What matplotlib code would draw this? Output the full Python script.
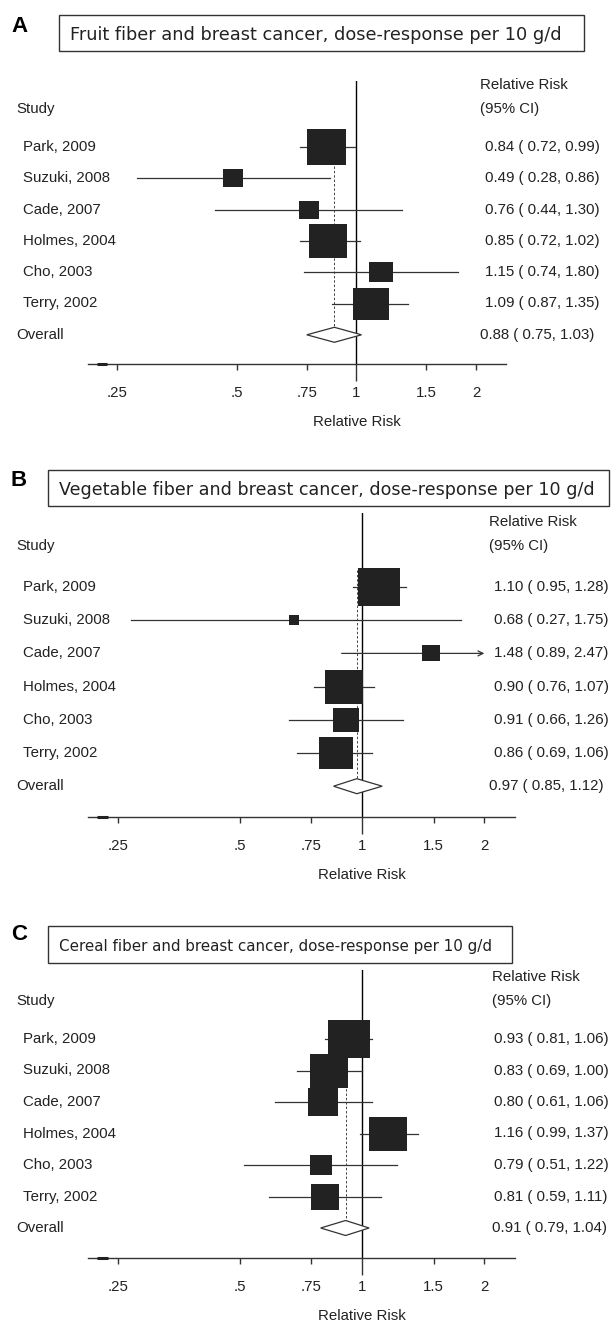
import matplotlib
matplotlib.use("Agg")
import matplotlib.pyplot as plt
from matplotlib.patches import Rectangle, Polygon
from matplotlib.ticker import NullLocator
from matplotlib.transforms import blended_transform_factory
import numpy as np

# --- data ---
studies = ["Park, 2009", "Suzuki, 2008", "Cade, 2007", "Holmes, 2004", "Cho, 2003", "Terry, 2002"]
letters = ["A", "B", "C"]
titles = [
    "Fruit fiber and breast cancer, dose-response per 10 g/d",
    "Vegetable fiber and breast cancer, dose-response per 10 g/d",
    "Cereal fiber and breast cancer, dose-response per 10 g/d",
]

fruit_rr = [0.84, 0.49, 0.76, 0.85, 1.15, 1.09]
fruit_lo = [0.72, 0.28, 0.44, 0.72, 0.74, 0.87]
fruit_hi = [0.99, 0.86, 1.30, 1.02, 1.80, 1.35]
fruit_weight = [28.1, 7.4, 6.7, 25.3, 9.8, 22.7]
fruit_overall = [0.88, 0.75, 1.03]

veg_rr = [1.10, 0.68, 1.48, 0.90, 0.91, 0.86]
veg_lo = [0.95, 0.27, 0.89, 0.76, 0.66, 0.69]
veg_hi = [1.28, 1.75, 2.47, 1.07, 1.26, 1.06]
veg_weight = [31.6, 1.8, 6.1, 26.5, 12.1, 21.9]
veg_overall = [0.97, 0.85, 1.12]

cereal_rr = [0.93, 0.83, 0.80, 1.16, 0.79, 0.81]
cereal_lo = [0.81, 0.69, 0.61, 0.99, 0.51, 0.59]
cereal_hi = [1.06, 1.00, 1.06, 1.37, 1.22, 1.11]
cereal_weight = [26.1, 20.3, 13.3, 21.9, 7.2, 11.2]
cereal_overall = [0.91, 0.79, 1.04]

tick_values = [0.25, 0.5, 0.75, 1, 1.5, 2]
tick_labels = [".25", ".5", ".75", "1", "1.5", "2"]
x_range = (0.211, 2.38)
clip_max = 2.0

# --- layout (pixels) ---
W, H = 616, 1322
panels = [
    dict(rr=fruit_rr, lo=fruit_lo, hi=fruit_hi, w=fruit_weight, ov=fruit_overall,
         left=88, right=506, top=81, row0=147, step=31.3, axis=364, box_max=39,
         box=(59, 15, 584, 51), title_x=70, title_size=12.8, letter_y=26,
         head_x=480, val_x=485),
    dict(rr=veg_rr, lo=veg_lo, hi=veg_hi, w=veg_weight, ov=veg_overall,
         left=88, right=515, top=513, row0=587, step=33.2, axis=817, box_max=42,
         box=(48, 470, 609, 506), title_x=59, title_size=12.6, letter_y=480,
         head_x=489, val_x=494),
    dict(rr=cereal_rr, lo=cereal_lo, hi=cereal_hi, w=cereal_weight, ov=cereal_overall,
         left=88, right=515, top=970, row0=1039, step=31.5, axis=1258, box_max=42,
         box=(48, 926, 512, 963), title_x=59, title_size=10.9, letter_y=935,
         head_x=492, val_x=494),
]

SANS = "Liberation Sans"
FS = 10.8
INK = "#222222"
LINE = "#333333"

fig = plt.figure(figsize=(W / 100, H / 100), dpi=100)

# box marker slightly wider than tall
box_marker = [(-1.1, -1), (1.1, -1), (1.1, 1), (-1.1, 1), (-1.1, -1)]

for p, letter, title in zip(panels, letters, titles):
    ax = fig.add_axes([p["left"] / W, 1 - p["axis"] / H,
                       (p["right"] - p["left"]) / W, (p["axis"] - p["top"]) / H])
    n = len(studies)
    y_top = (p["top"] - p["row0"]) / p["step"]
    y_bot = (p["axis"] - p["row0"]) / p["step"]
    ax.set_xscale("log")
    ax.set_xlim(*x_range)
    ax.set_ylim(y_bot, y_top)
    ax.patch.set_visible(False)
    for s in ["top", "left", "right"]:
        ax.spines[s].set_visible(False)
    ax.spines["bottom"].set_color(LINE)
    ax.spines["bottom"].set_linewidth(1.0)
    ax.set_yticks([])
    ax.xaxis.set_minor_locator(NullLocator())
    ax.set_xticks(tick_values)
    ax.set_xticklabels(tick_labels, fontfamily=SANS, fontsize=FS)
    ax.tick_params(axis="x", direction="out", length=4.5, width=1.0,
                   color=LINE, pad=11, labelcolor=INK)
    # longer tick at the null value
    ax.xaxis.get_major_ticks()[tick_values.index(1)].tick1line.set_markersize(12)

    # reference line at 1
    ax.plot([1, 1], [y_top, y_bot], color="black", lw=1.0, zorder=2)

    # dashed line at pooled estimate
    est, olo, ohi = p["ov"]
    ax.plot([est, est], [-0.5, n], color="#444444", lw=0.7,
            ls=(0, (2.5, 2)), zorder=1)

    # study CIs and weighted boxes
    wmax = max(p["w"])
    for i in range(n):
        lo, hi, rr = p["lo"][i], p["hi"][i], p["rr"][i]
        if hi > clip_max:
            ax.annotate("", xy=(clip_max, i), xytext=(lo, i),
                        arrowprops=dict(arrowstyle="->", lw=0.9, color=LINE,
                                        shrinkA=0, shrinkB=0, mutation_scale=9))
        else:
            ax.plot([lo, hi], [i, i], color=LINE, lw=0.9, zorder=3)
        side = p["box_max"] * np.sqrt(p["w"][i] / wmax)
        ax.plot([rr], [i], marker=box_marker, ms=side * 0.72, color=INK,
                mec=INK, mew=0, ls="none", zorder=4)

    # pooled diamond
    h = 7.5 / p["step"]
    ax.add_patch(Polygon([(olo, n), (est, n - h), (ohi, n), (est, n + h)],
                         closed=True, facecolor="white", edgecolor=LINE,
                         lw=0.9, zorder=5))

    # little mark at the left end of the axis
    ax.plot([0.222, 0.236], [y_bot, y_bot], color=INK, lw=2.2,
            solid_capstyle="butt", clip_on=False, zorder=6)

    # text columns
    tr = blended_transform_factory(fig.transFigure, ax.transData)
    ax.text(16 / W, -1.22, "Study", transform=tr, ha="left", va="center",
            fontfamily=SANS, fontsize=FS, color=INK)
    for i, name in enumerate(studies):
        ax.text(23 / W, i, name, transform=tr, ha="left", va="center",
                fontfamily=SANS, fontsize=FS, color=INK)
        ax.text(p["val_x"] / W, i,
                f"{p['rr'][i]:.2f} ( {p['lo'][i]:.2f}, {p['hi'][i]:.2f})",
                transform=tr, ha="left", va="center",
                fontfamily=SANS, fontsize=FS, color=INK)
    ax.text(16 / W, n, "Overall", transform=tr, ha="left", va="center",
            fontfamily=SANS, fontsize=FS, color=INK)
    ax.text(p["head_x"] / W, n, f"{est:.2f} ( {olo:.2f}, {ohi:.2f})",
            transform=tr, ha="left", va="center",
            fontfamily=SANS, fontsize=FS, color=INK)
    ax.text(p["head_x"] / W, -1.97, "Relative Risk", transform=tr,
            ha="left", va="center", fontfamily=SANS, fontsize=FS, color=INK)
    ax.text(p["head_x"] / W, -1.22, "(95% CI)", transform=tr,
            ha="left", va="center", fontfamily=SANS, fontsize=FS, color=INK)

    # axis title centred under the null value
    ax.annotate("Relative Risk", xy=(1, 0), xycoords=("data", "axes fraction"),
                xytext=(0, -58 * 0.72), textcoords="offset points",
                ha="center", va="center", fontfamily=SANS, fontsize=FS, color=INK)

    # panel letter and boxed title
    fig.text(11 / W, 1 - p["letter_y"] / H, letter, ha="left", va="center",
             fontfamily=SANS, fontweight="bold", fontsize=16, color="black")
    x0, y0, x1, y1 = p["box"]
    fig.patches.append(Rectangle((x0 / W, 1 - y1 / H), (x1 - x0) / W, (y1 - y0) / H,
                                 transform=fig.transFigure, fill=False,
                                 edgecolor=LINE, lw=1.0))
    fig.text(p["title_x"] / W, 1 - ((y0 + y1) / 2) / H, title, ha="left",
             va="center_baseline", fontfamily="DejaVu Sans",
             fontsize=p["title_size"], color=INK)

fig.savefig("out.png", dpi=100)
